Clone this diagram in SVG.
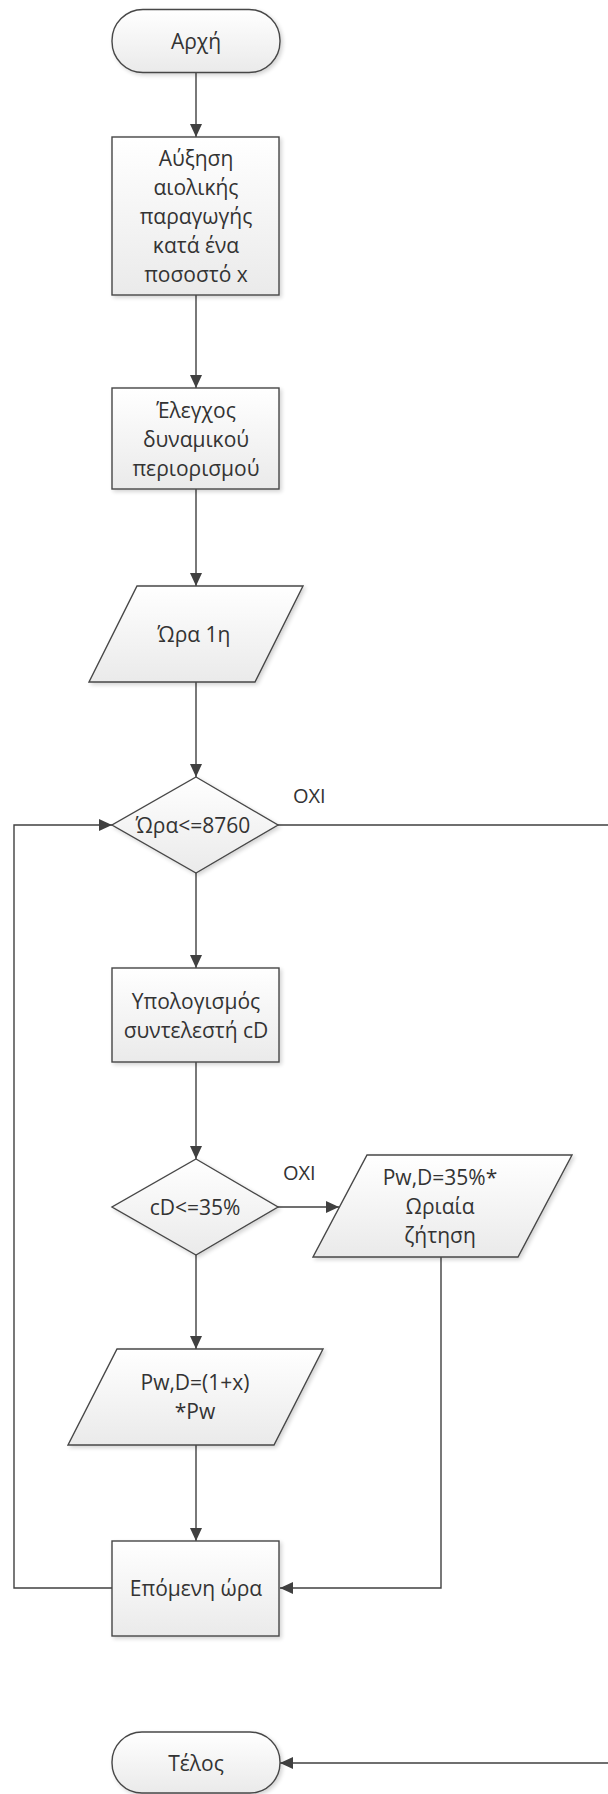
<svg xmlns="http://www.w3.org/2000/svg" width="608" height="1794" viewBox="0 0 608 1794">
<style>
.shape{fill:url(#g);stroke:#474747;stroke-width:1.4;filter:url(#sh)}
.con{fill:none;stroke:#404040;stroke-width:1.4}
.arr{marker-end:url(#ah)}
text{font-family:"Open Sans","Noto Sans","DejaVu Sans",sans-serif;font-size:21px;fill:#333;text-anchor:middle}
.lbl{text-anchor:start;font-size:20px}
</style>
<defs>
<linearGradient id="g" x1="0" y1="0" x2="0" y2="1">
<stop offset="0" stop-color="#ffffff"/>
<stop offset="1" stop-color="#eaeaea"/>
</linearGradient>
<filter id="sh" x="-10%" y="-10%" width="130%" height="130%">
<feGaussianBlur in="SourceAlpha" stdDeviation="2"/>
<feOffset dx="2" dy="2" result="b"/>
<feComponentTransfer><feFuncA type="linear" slope="0.18"/></feComponentTransfer>
<feMerge><feMergeNode/><feMergeNode in="SourceGraphic"/></feMerge>
</filter>
<marker id="ah" markerWidth="13" markerHeight="12" refX="13" refY="6" orient="auto" markerUnits="userSpaceOnUse">
<path d="M0,0 L13,6 L0,12 Z" fill="#404040"/>
</marker>
</defs>
<rect width="608" height="1794" fill="#ffffff"/>
<g id="connectors">
<path class="con arr" d="M196,73 V137"/>
<path class="con arr" d="M196,295 V388"/>
<path class="con arr" d="M196,489 V586"/>
<path class="con arr" d="M196,682 V777"/>
<path class="con arr" d="M196,873 V968"/>
<path class="con arr" d="M196,1062 V1159"/>
<path class="con arr" d="M278,1207 H339"/>
<path class="con arr" d="M196,1255 V1349"/>
<path class="con arr" d="M196,1445 V1541"/>
<path class="con arr" d="M441,1257 V1588 H280"/>
<path class="con arr" d="M112,1588 H14 V825 H112"/>
<path class="con arr" d="M278,825 H612 V1763 H280"/>
<text class="lbl" x="293" y="803">ΟΧΙ</text>
<text class="lbl" x="283" y="1180">ΟΧΙ</text>
</g>
<g id="start">
<rect class="shape" x="112" y="9.5" width="168" height="63" rx="31" ry="31"/>
<text x="196" y="49">Αρχή</text>
</g>
<g id="increase">
<rect class="shape" x="112" y="137" width="167" height="158"/>
<text x="196" y="166">Αύξηση</text>
<text x="196" y="195">αιολικής</text>
<text x="196" y="224">παραγωγής</text>
<text x="196" y="253">κατά ένα</text>
<text x="196" y="282">ποσοστό x</text>
</g>
<g id="check">
<rect class="shape" x="112" y="388" width="167" height="101"/>
<text x="196" y="418">Έλεγχος</text>
<text x="196" y="447">δυναμικού</text>
<text x="196" y="476">περιορισμού</text>
</g>
<g id="hour1">
<polygon class="shape" points="137,586 303,586 255,682 89,682"/>
<text x="194" y="642">Ώρα 1η</text>
</g>
<g id="cond1">
<polygon class="shape" points="196,777 278,825 196,873 112,825"/>
<text x="193" y="833">Ώρα&lt;=8760</text>
</g>
<g id="calc">
<rect class="shape" x="112" y="968" width="167" height="94"/>
<text x="196" y="1009">Υπολογισμός</text>
<text x="196" y="1038">συντελεστή cD</text>
</g>
<g id="cond2">
<polygon class="shape" points="196,1159 278,1207 196,1255 112,1207"/>
<text x="195" y="1215">cD&lt;=35%</text>
</g>
<g id="pw35">
<polygon class="shape" points="367,1155 572,1155 518,1257 313,1257"/>
<text x="440" y="1185">Pw,D=35%*</text>
<text x="440" y="1214">Ωριαία</text>
<text x="440" y="1243">ζήτηση</text>
</g>
<g id="pwx">
<polygon class="shape" points="117,1349 323,1349 274,1445 68,1445"/>
<text x="195" y="1390">Pw,D=(1+x)</text>
<text x="195" y="1419">*Pw</text>
</g>
<g id="next">
<rect class="shape" x="112" y="1541" width="167" height="95"/>
<text x="196" y="1596">Επόμενη ώρα</text>
</g>
<g id="end">
<rect class="shape" x="112" y="1732" width="168" height="61" rx="30" ry="30"/>
<text x="196" y="1771">Τέλος</text>
</g>
</svg>
